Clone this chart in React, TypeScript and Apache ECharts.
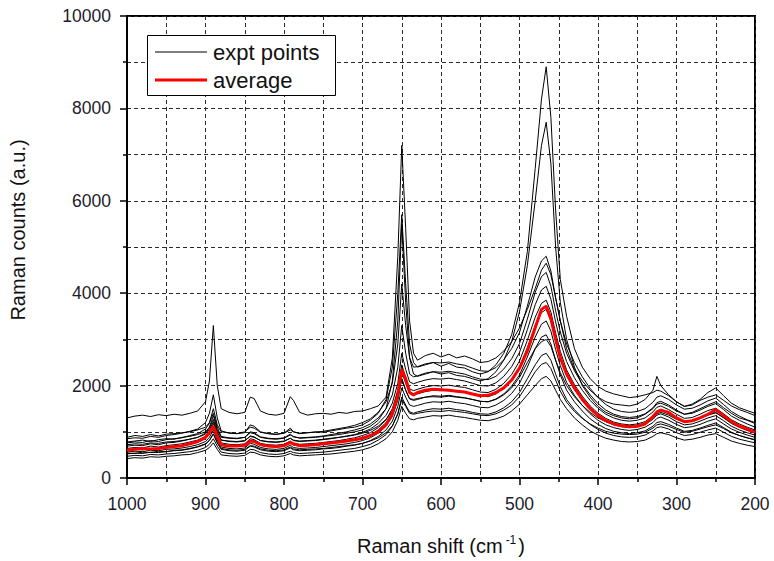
import React, { useEffect, useRef } from 'react';
import * as echarts from 'echarts';

// Raman shift (cm^-1) sample positions
const X = [
  1000, 990, 980, 970, 960, 950, 940, 930, 920, 910,
  900, 895, 890, 885, 880,
  870, 860, 850,
  843, 838,
  830, 820, 810, 800,
  792, 788,
  780, 770, 760, 750, 740, 730, 720, 710, 700, 690, 680, 670,
  662, 655, 650, 645, 640, 635, 630,
  620, 610, 600, 590, 580, 570, 560, 550, 540, 530, 520, 510, 500, 490, 480,
  472, 466, 460, 454, 448,
  440, 430, 420, 410, 400, 390, 380, 370, 360, 350, 340, 330,
  325, 320,
  310, 300, 290, 280, 270, 260, 250, 240, 230, 220, 210, 200,
];

const AVG = [
  600, 620, 640, 630, 640, 660, 680, 700, 740, 790,
  880, 980, 1120, 900, 720,
  690, 690, 710,
  800, 790,
  720, 690, 680, 700,
  770, 740,
  700, 710, 720, 740, 760, 780, 800, 830, 860, 920, 1000, 1150,
  1400, 1800, 2350, 2150, 1850, 1800, 1850,
  1900, 1920, 1910, 1900, 1880, 1860, 1820, 1780, 1790, 1850, 1950, 2120, 2380, 2750, 3250,
  3650, 3720, 3450, 3000, 2600,
  2250, 1950, 1700, 1500, 1350, 1240, 1170, 1130, 1110, 1120, 1170, 1330,
  1430, 1470,
  1420, 1300, 1220, 1240, 1300, 1380, 1480, 1350, 1220, 1120, 1060, 990,
];

const S1 = [
  1300, 1340, 1360, 1330, 1370, 1350, 1380, 1360, 1400, 1450,
  1650, 2100, 3300, 2000, 1500,
  1420, 1390, 1420,
  1750, 1720,
  1450, 1380, 1360, 1400,
  1760, 1680,
  1420, 1360, 1390, 1400, 1380, 1420, 1400, 1440, 1450, 1500, 1560, 1750,
  2600, 4800, 7200, 5400, 3400, 2700, 2550,
  2650, 2700, 2620, 2680, 2600, 2640, 2580, 2500, 2520, 2600, 2750, 2950, 3250, 3650, 4100,
  4500, 4650, 4400, 3900, 3400,
  2800, 2350, 2100, 1900, 1750, 1650, 1600, 1580, 1560, 1600, 1700, 1900,
  2200, 2000,
  1800, 1650, 1550, 1600, 1700, 1850, 1950, 1780, 1620, 1520, 1460, 1400,
];

const S2 = [
  880, 920, 900, 940, 910, 950, 960, 980, 1000, 1040,
  1100, 1200, 1500, 1150, 1000,
  980, 960, 1000,
  1100, 1080,
  990, 960, 940, 970,
  1040, 1000,
  960, 980, 1000, 990, 1020, 1050, 1080, 1100, 1150, 1250, 1400, 1700,
  2400, 4000, 5700, 4200, 2900, 2500, 2400,
  2450, 2500, 2420, 2480, 2400, 2380, 2300, 2250, 2300, 2450, 2700, 3100, 3800, 4900, 6700,
  8200, 8900, 7800, 5800, 4300,
  3500, 2800, 2400, 2150, 1980, 1880, 1820, 1780, 1740, 1760, 1800, 1850,
  1900, 1880,
  1780, 1650, 1550, 1580, 1680, 1750, 1800, 1680, 1560, 1480, 1420, 1350,
];

const S3 = [
  780, 800, 820, 790, 830, 850, 840, 880, 900, 940,
  1000, 1100, 1350, 1050, 880,
  860, 850, 880,
  980, 960,
  880, 850, 840, 860,
  930, 900,
  860, 870, 880, 900, 920, 940, 970, 1000, 1040, 1120, 1250, 1500,
  2100, 3400, 5500, 3800, 2600, 2250, 2200,
  2250, 2300, 2250, 2280, 2220, 2200, 2150, 2100, 2150, 2300, 2550, 2950, 3600, 4600, 6000,
  7200, 7700, 6800, 5000, 3800,
  3000, 2400, 2000, 1750, 1550, 1420, 1350, 1300, 1280, 1300, 1380, 1500,
  1600, 1620,
  1550, 1450, 1380, 1420, 1500, 1580, 1650, 1520, 1400, 1300, 1250, 1180,
];

const O1 = [
  420, 440, 430, 460, 450, 470, 480, 500, 510, 550,
  600, 660, 760, 620, 500,
  480, 470, 490,
  560, 550,
  500, 470, 460, 480,
  530, 500,
  480, 490, 500, 510, 520, 540, 560, 580, 610, 660, 740, 850,
  1000, 1250, 1550, 1400, 1280, 1260, 1290,
  1320, 1350, 1340, 1360, 1330, 1310, 1280, 1250, 1240, 1280, 1340, 1450, 1600, 1800, 2000,
  2150, 2200, 2100, 1900, 1700,
  1500, 1300, 1150, 1020, 930, 860, 820, 790, 780, 790, 820, 900,
  960, 980,
  940, 870, 820, 840, 880, 930, 960, 880, 800, 750, 710, 680,
];

const O2 = [
  470, 490, 480, 510, 500, 520, 530, 550, 570, 600,
  660, 730, 850, 690, 560,
  530, 520, 540,
  620, 610,
  550, 520, 510, 530,
  580, 550,
  530, 540, 550, 560, 580, 600, 620, 640, 680, 730, 820, 940,
  1120, 1400, 1750, 1580, 1430, 1400, 1430,
  1470, 1500, 1490, 1510, 1480, 1460, 1420, 1390, 1380, 1430, 1520, 1650, 1850, 2150, 2450,
  2650, 2700, 2550, 2250, 1980,
  1700, 1480, 1300, 1160, 1050, 970, 920, 890, 880, 890, 930, 1020,
  1090, 1110,
  1060, 980, 920, 940, 990, 1040, 1080, 990, 900, 840, 800, 760,
];

const O3 = [
  520, 540, 530, 560, 550, 570, 590, 600, 630, 670,
  730, 810, 950, 760, 620,
  590, 580, 600,
  690, 670,
  610, 580, 570, 590,
  650, 610,
  590, 600, 610, 630, 640, 660, 690, 710, 750, 810, 900, 1040,
  1230, 1550, 1950, 1750, 1580, 1550, 1570,
  1620, 1650, 1640, 1660, 1630, 1610, 1570, 1530, 1520, 1580, 1680, 1830, 2050, 2400, 2800,
  3050, 3100, 2900, 2550, 2230,
  1900, 1650, 1450, 1280, 1160, 1070, 1010, 980, 960, 980, 1020, 1120,
  1200, 1220,
  1160, 1080, 1010, 1030, 1080, 1140, 1190, 1090, 990, 920, 870, 830,
];

const O4 = [
  560, 580, 570, 600, 590, 620, 630, 650, 680, 720,
  790, 880, 1040, 820, 670,
  640, 630, 650,
  750, 730,
  660, 630, 620, 640,
  710, 660,
  640, 650, 660, 680, 700, 720, 740, 770, 810, 870, 970, 1120,
  1330, 1680, 2150, 1900, 1710, 1680, 1700,
  1750, 1780, 1770, 1790, 1760, 1740, 1700, 1660, 1650, 1710, 1820, 1990, 2230, 2620, 3050,
  3330, 3400, 3180, 2780, 2430,
  2070, 1790, 1570, 1390, 1250, 1150, 1090, 1050, 1030, 1050, 1100, 1200,
  1290, 1320,
  1250, 1160, 1090, 1110, 1160, 1230, 1280, 1170, 1060, 990, 930, 880,
];

const O5 = [
  600, 620, 610, 640, 630, 660, 680, 690, 730, 770,
  850, 950, 1120, 880, 720,
  690, 680, 700,
  800, 780,
  710, 680, 670, 690,
  760, 710,
  690, 700, 710, 730, 750, 770, 800, 830, 870, 930, 1040, 1200,
  1420, 1800, 2300, 2050, 1830, 1800, 1820,
  1870, 1900, 1890, 1910, 1880, 1860, 1820, 1770, 1760, 1820, 1950, 2130, 2400, 2820, 3300,
  3580, 3650, 3400, 2980, 2600,
  2220, 1910, 1680, 1480, 1330, 1220, 1150, 1110, 1090, 1110, 1160, 1270,
  1360, 1390,
  1320, 1220, 1150, 1170, 1230, 1300, 1350, 1240, 1120, 1040, 980, 930,
];

const O6 = [
  640, 660, 650, 690, 670, 700, 720, 740, 780, 820,
  900, 1010, 1180, 930, 760,
  730, 720, 740,
  850, 830,
  750, 720, 710, 730,
  800, 750,
  730, 740, 750, 770, 790, 810, 840, 870, 920, 980, 1090, 1260,
  1500, 1900, 2450, 2170, 1930, 1890, 1920,
  1970, 2000, 1990, 2010, 1980, 1960, 1910, 1860, 1850, 1920, 2050, 2240, 2530, 2980, 3480,
  3780, 3850, 3590, 3140, 2740,
  2340, 2020, 1770, 1560, 1400, 1290, 1210, 1170, 1150, 1170, 1220, 1340,
  1430, 1460,
  1390, 1290, 1210, 1230, 1300, 1370, 1420, 1300, 1180, 1100, 1030, 980,
];

const O7 = [
  690, 710, 700, 740, 720, 760, 770, 800, 840, 880,
  970, 1090, 1270, 1000, 820,
  790, 780, 800,
  910, 890,
  810, 780, 770, 790,
  860, 810,
  790, 800, 810, 830, 850, 880, 910, 940, 990, 1060, 1180, 1360,
  1620, 2050, 2700, 2350, 2080, 2040, 2070,
  2120, 2150, 2140, 2160, 2130, 2100, 2050, 2000, 1990, 2060, 2200, 2410, 2720, 3210, 3750,
  4070, 4150, 3870, 3380, 2950,
  2520, 2170, 1900, 1680, 1510, 1380, 1300, 1250, 1230, 1250, 1300, 1430,
  1530, 1560,
  1480, 1380, 1290, 1310, 1380, 1460, 1510, 1390, 1260, 1170, 1100, 1040,
];

const O8 = [
  760, 780, 770, 810, 790, 830, 850, 870, 920, 960,
  1060, 1190, 1400, 1100, 900,
  870, 860, 880,
  1000, 980,
  890, 860, 850, 870,
  950, 890,
  870, 880, 890, 910, 940, 970, 1000, 1040, 1090, 1170, 1300, 1500,
  1800, 2400, 3300, 2700, 2250, 2190, 2210,
  2270, 2300, 2290, 2310, 2280, 2250, 2190, 2140, 2130, 2200, 2360, 2580, 2910, 3440, 4020,
  4360, 4450, 4150, 3620, 3160,
  2700, 2320, 2030, 1800, 1610, 1470, 1380, 1330, 1310, 1330, 1390, 1520,
  1630, 1660,
  1580, 1470, 1380, 1400, 1470, 1550, 1610, 1480, 1340, 1250, 1170, 1100,
];

const O9 = [
  850, 870, 860, 900, 880, 920, 940, 970, 1010, 1060,
  1200, 1400, 1800, 1300, 1020,
  970, 960, 980,
  1150, 1120,
  1000, 960, 950, 970,
  1080, 1000,
  970, 980, 990, 1010, 1040, 1070, 1100, 1140, 1200, 1280, 1420, 1650,
  2050, 2900, 4200, 3300, 2600, 2400, 2410,
  2470, 2500, 2490, 2510, 2470, 2440, 2380, 2320, 2310, 2390, 2560, 2800, 3150, 3720, 4350,
  4700, 4800, 4480, 3900, 3400,
  2900, 2500, 2190, 1940, 1740, 1590, 1490, 1440, 1420, 1440, 1500, 1640,
  1750, 1780,
  1700, 1580, 1490, 1510, 1580, 1670, 1730, 1590, 1440, 1340, 1260, 1200,
];

const O10 = [
  540, 530, 560, 550, 580, 570, 600, 610, 640, 680,
  740, 820, 960, 770, 640,
  610, 600, 620,
  700, 690,
  630, 600, 590, 610,
  670, 630,
  610, 620, 630, 640, 660, 680, 700, 720, 750, 800, 870, 980,
  1130, 1380, 1700, 1550, 1400, 1380, 1400,
  1430, 1450, 1440, 1460, 1440, 1420, 1390, 1360, 1350, 1390, 1470, 1580, 1760, 2020, 2300,
  2460, 2500, 2370, 2120, 1880,
  1640, 1440, 1290, 1170, 1080, 1010, 970, 950, 940, 950, 990, 1080,
  1150, 1170,
  1120, 1050, 990, 1010, 1060, 1110, 1150, 1070, 980, 920, 870, 820,
];

const O11 = [
  720, 740, 730, 760, 750, 780, 790, 810, 840, 880,
  950, 1050, 1220, 980, 820,
  800, 790, 810,
  900, 880,
  810, 790, 780, 800,
  860, 820,
  800, 810, 820, 840, 860, 880, 900, 930, 970, 1030, 1120, 1270,
  1450, 1750, 2150, 1900, 1720, 1700, 1720,
  1750, 1760, 1750, 1770, 1750, 1730, 1700, 1660, 1650, 1700, 1800, 1950, 2180, 2500, 2800,
  2950, 3000, 2850, 2550, 2280,
  2000, 1760, 1570, 1420, 1300, 1220, 1170, 1140, 1130, 1140, 1190, 1300,
  1390, 1420,
  1360, 1270, 1210, 1230, 1290, 1360, 1410, 1310, 1200, 1120, 1060, 1020,
];

const EXPT = [S1, S2, S3, O1, O2, O3, O4, O5, O6, O7, O8, O9, O10, O11];

const LEGEND_LABELS = ['expt points', 'average'];
const X_TICKS = { min: 200, max: 1000, interval: 100 };
const Y_TICKS = { min: 0, max: 10000, interval: 2000 };

export default function App() {
  const ref = useRef<HTMLDivElement>(null);

  useEffect(() => {
    if (!ref.current) return;
    const chart = echarts.init(ref.current, null, { renderer: 'svg' });
    const font = '"Liberation Sans", Arial, Helvetica, sans-serif';
    const dash = { color: '#2a2a2a', width: 1, type: [4, 3] as number[] };
    const pairs = (ys: number[]) => X.map((x, i) => [x, ys[i]]);

    const series: any[] = EXPT.map((ys) => ({
      type: 'line',
      name: LEGEND_LABELS[0],
      data: pairs(ys),
      symbol: 'none',
      silent: true,
      lineStyle: { color: '#000', width: 1 },
      itemStyle: { color: '#000' },
      z: 2,
    }));
    series.push({
      type: 'line',
      name: LEGEND_LABELS[1],
      data: pairs(AVG),
      symbol: 'none',
      silent: true,
      lineStyle: { color: '#ff0000', width: 3 },
      itemStyle: { color: '#ff0000' },
      z: 3,
    });

    const tickFmt = (v: number) => String(v);

    chart.setOption({
      animation: false,
      backgroundColor: '#fff',
      grid: {
        left: 127,
        right: 19,
        top: 16,
        bottom: 82,
        show: true,
        borderColor: '#000',
        borderWidth: 2,
        backgroundColor: '#fff',
      },
      xAxis: {
        type: 'value',
        inverse: true,
        min: X_TICKS.min,
        max: X_TICKS.max,
        interval: X_TICKS.interval,
        name: '{a|Raman shift (cm}{s|-1}{a|)}',
        nameLocation: 'middle',
        nameGap: 56,
        nameTextStyle: {
          rich: {
            a: { fontFamily: font, fontSize: 20, color: '#111' },
            s: { fontFamily: font, fontSize: 12, color: '#111', padding: [0, 2, 12, 3] },
          },
        },
        axisLine: { show: true, lineStyle: { color: '#000', width: 2 } },
        axisTick: { show: true, length: 7, lineStyle: { color: '#000', width: 1.5 } },
        minorTick: { show: true, splitNumber: 2, length: 4, lineStyle: { color: '#000', width: 1.5 } },
        splitLine: { show: true, lineStyle: dash },
        minorSplitLine: { show: true, lineStyle: dash },
        axisLabel: { fontFamily: font, fontSize: 17.5, color: '#1c1c2c', margin: 17, formatter: tickFmt },
      },
      yAxis: {
        type: 'value',
        min: Y_TICKS.min,
        max: Y_TICKS.max,
        interval: Y_TICKS.interval,
        axisLine: { show: true, lineStyle: { color: '#000', width: 2 } },
        axisTick: { show: true, length: 7, lineStyle: { color: '#000', width: 1.5 } },
        minorTick: { show: true, splitNumber: 2, length: 4, lineStyle: { color: '#000', width: 1.5 } },
        splitLine: { show: true, lineStyle: dash },
        minorSplitLine: { show: true, lineStyle: dash },
        axisLabel: { fontFamily: font, fontSize: 17.5, color: '#1c1c2c', margin: 16, formatter: tickFmt },
      },
      graphic: [
        {
          type: 'text',
          x: 18,
          y: 230,
          rotation: Math.PI / 2,
          style: {
            text: 'Raman counts (a.u.)',
            fontFamily: font,
            fontSize: 20,
            fill: '#111',
            align: 'center',
            verticalAlign: 'middle',
          },
        },
        {
          type: 'group',
          z: 100,
          children: [
            {
              type: 'rect',
              z: 100,
              shape: { x: 147.5, y: 35.5, width: 188, height: 60 },
              style: { fill: '#fff', stroke: '#000', lineWidth: 1 },
            },
            {
              type: 'line',
              z: 101,
              shape: { x1: 155, y1: 52, x2: 207, y2: 52 },
              style: { stroke: '#000', lineWidth: 1 },
            },
            {
              type: 'line',
              z: 101,
              shape: { x1: 155, y1: 80, x2: 207, y2: 80 },
              style: { stroke: '#ff0000', lineWidth: 3 },
            },
            {
              type: 'text',
              z: 101,
              x: 213,
              y: 52,
              style: {
                text: LEGEND_LABELS[0],
                fontFamily: font,
                fontSize: 22,
                fill: '#111',
                align: 'left',
                verticalAlign: 'middle',
              },
            },
            {
              type: 'text',
              z: 101,
              x: 213,
              y: 80,
              style: {
                text: LEGEND_LABELS[1],
                fontFamily: font,
                fontSize: 22,
                fill: '#111',
                align: 'left',
                verticalAlign: 'middle',
              },
            },
          ],
        },
      ],
      series,
    });

    return () => chart.dispose();
  }, []);

  return (
    <div
      ref={ref}
      style={{ position: 'fixed', left: 0, top: 0, width: 774, height: 561 }}
    />
  );
}
